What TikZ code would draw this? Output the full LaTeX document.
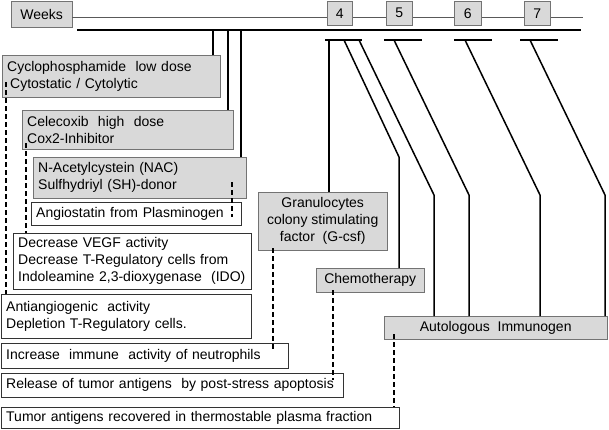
\documentclass[tikz,border=0pt]{standalone}
\usepackage{fontspec}
\setmainfont{Liberation Sans}
\usepackage{xcolor}
\usetikzlibrary{positioning}
\definecolor{boxgray}{HTML}{D9D9D9}

\begin{document}
\begin{tikzpicture}[x=1pt,y=-1pt]
  \tikzset{gbox/.style = {shape=rectangle,draw=black!55,fill=boxgray,anchor=north west,inner xsep=5pt,inner ysep=2pt,align=left,font=\fontsize{14}{17}\selectfont}}
    \tikzset{wbox/.style = {gbox,draw=black!80,fill=white}}
    \tikzset{cbox/.style = {gbox,align=center,inner sep=0pt}}
  \tikzset{link/.style = {line width=1.5pt}}
  \tikzset{dashline/.style = {line width=1.5pt,dash pattern=on 5pt off 3pt}}
  \tikzset{bar/.style = {line width=2pt}}

  \useasboundingbox (0,0) rectangle (609,429);

	\node[cbox,minimum width=61pt,minimum height=26pt] (weeks) at (11,1) {Weeks};
	\coordinate (tend) at (583,17);
	\draw[black!65,line width=0.8pt] (weeks.east |- tend) -- (tend);

	\node[cbox,minimum width=25pt,minimum height=24pt] (w4) at (327,1) {4};
	\node[cbox,minimum width=26pt,minimum height=24pt] (w5) at (386,1) {5};
	\node[cbox,minimum width=27pt,minimum height=24pt] (w6) at (454,1) {6};
	\node[cbox,minimum width=26pt,minimum height=24pt] (w7) at (524,1) {7};

	% drugs
	\node[gbox,text width=208pt,minimum height=42pt] (cyclo) at (2,55) {Cyclophosphamide\ \ low dose\\\hspace{3pt}Cytostatic / Cytolytic};
	\node[gbox,text width=201pt,minimum height=39pt] (celec) at (22,110) {Celecoxib\ \ high\ \ dose\\Cox2-Inhibitor};
	\node[gbox,text width=203pt,minimum height=41pt] (nac) at (33,157) {N-Acetylcystein (NAC)\\Sulfhydriyl (SH)-donor};
	\node[cbox,minimum width=129pt,minimum height=58pt] (gcsf) at (258,192) {Granulocytes\\colony stimulating\\factor\ \ (G-csf)};
	\node[cbox,minimum width=108pt,minimum height=24pt] (chemo) at (316,268) {Chemotherapy};
	\node[cbox,minimum width=223pt,minimum height=23pt] (auto) at (384,316) {Autologous\ \ Immunogen};

	% effects
	\node[wbox,text width=200pt,minimum height=23pt] (angio) at (31,202) {Angiostatin from Plasminogen};
	\node[wbox,text width=228pt,minimum height=56pt] (vegf) at (13,233) {Decrease VEGF activity\\Decrease T-Regulatory cells from\\Indoleamine 2,3-dioxygenase\ \ (IDO)};
	\node[wbox,text width=240pt,minimum height=44pt] (anti) at (1,294) {Antiangiogenic\ \ activity\\Depletion T-Regulatory cells.};
	\node[wbox,text width=277pt,minimum height=25pt] (incr) at (1,343) {Increase\ \ immune\ \ activity of neutrophils};
	\node[wbox,text width=332pt,minimum height=24pt] (rel) at (1,373) {Release of tumor antigens\ \ by post-stress apoptosis};
	\node[wbox,text width=388pt,minimum height=21pt] (tumor) at (1,407) {Tumor antigens recovered in thermostable plasma fraction};

	% time axis
	\coordinate (a0) at (77,30);
	\coordinate (a1) at (581,30);
	\draw[line width=2.2pt] (a0) -- (a1);
	\foreach \xa/\xb in {325/362, 384/422, 454/492, 520/558}
	\draw[bar] (\xa,40) -- (\xb,40);

	\coordinate (t1) at (213,30);
	\coordinate (t2) at (228,30);
	\coordinate (t3) at (241,30);
	\coordinate (t4) at (329,40);
    \foreach \from/\to in {t1/cyclo, t2/celec, t3/nac, t4/gcsf}
    \draw[link] (\from) -- (\from |- \to.north);

	\coordinate (d1) at (344,40);  \coordinate (k1) at (399,157);
	\coordinate (d2) at (359,40);  \coordinate (k2) at (434,195);
	\coordinate (d3) at (394,40);  \coordinate (k3) at (469,195);
	\coordinate (d4) at (465,40);  \coordinate (k4) at (540,195);
	\coordinate (d5) at (530,40);  \coordinate (k5) at (605,195);
    \foreach \from/\bend/\to in {d1/k1/chemo, d2/k2/auto, d3/k3/auto, d4/k4/auto, d5/k5/auto}
    \draw[link] (\from) -- (\bend) -- (\bend |- \to.north);

	% dashed links
	\coordinate (c1) at (6,82);
	\coordinate (c2) at (26,143);
	\coordinate (c3) at (232,182);
	\coordinate (c4) at (273,248);
	\coordinate (c5) at (333,290);
	\coordinate (c6) at (394,334);
	\draw[dashline] (c1) -- (c1 |- anti.north);
	\draw[dashline] (c2) -- (c2 |- vegf.north);
	\draw[dashline] (c3) -- ([yshift=8pt]angio.south -| c3);
	\draw[dashline] (c4) -- ([yshift=-6pt]incr.north -| c4);
	\draw[dashline] (c5) -- ([yshift=-7pt]rel.north -| c5);
	\draw[dashline] (c6) -- (c6 |- tumor.north);

\end{tikzpicture}
\end{document}
